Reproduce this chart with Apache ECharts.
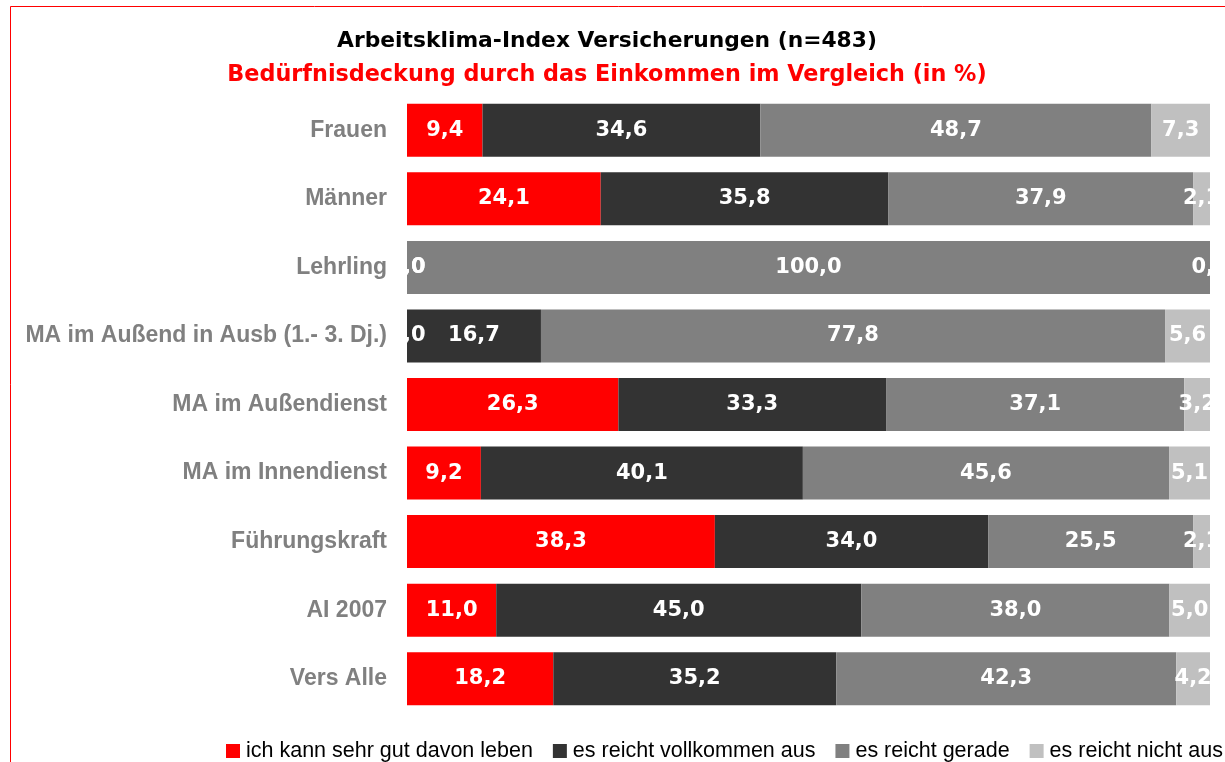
<!DOCTYPE html>
<html>
<head>
<meta charset="utf-8">
<script src="https://cdn.jsdelivr.net/npm/echarts@6/dist/echarts.min.js"></script>
<style>
  html, body { margin: 0; padding: 0; background: #fff; overflow: hidden; }
  #chart { width: 1225px; height: 762px; }
</style>
</head>
<body>
<div id="chart"></div>
<script>
const categories = ['Frauen', 'Männer', 'Lehrling', 'MA im Außend in Ausb (1.- 3. Dj.)',
  'MA im Außendienst', 'MA im Innendienst', 'Führungskraft', 'AI 2007', 'Vers Alle'];
const seriesNames = ['ich kann sehr gut davon leben', 'es reicht vollkommen aus', 'es reicht gerade', 'es reicht nicht aus'];
const sehrGut = [9.4, 24.1, 0, 0, 26.3, 9.2, 38.3, 11.0, 18.2];
const vollkommen = [34.6, 35.8, 0, 16.7, 33.3, 40.1, 34.0, 45.0, 35.2];
const gerade = [48.7, 37.9, 100.0, 77.8, 37.1, 45.6, 25.5, 38.0, 42.3];
const nichtAus = [7.3, 2.1, 0, 5.6, 3.2, 5.1, 2.1, 5.0, 4.2];
const colors = ['#ff0000', '#333333', '#808080', '#c0c0c0'];

// plot area
const gridLeft = 407, gridRight = 1210, gridTop = 96, gridBottom = 713;

const chart = echarts.init(document.getElementById('chart'));

// 100% stacked: every row is scaled to its own total, labels keep the read value
const allSeries = [sehrGut, vollkommen, gerade, nichtAus];
const rowTotals = categories.map(function (c, j) {
  return allSeries.reduce(function (s, arr) { return s + arr[j]; }, 0);
});

const seriesList = allSeries.map(function (vals, i) {
  return {
    name: seriesNames[i],
    type: 'bar',
    stack: 'total',
    barWidth: 53,
    data: vals.map(function (v, j) {
      return { value: v / rowTotals[j] * 100, raw: v };
    }),
    itemStyle: { color: colors[i] },
    label: {
      show: true,
      position: 'inside',
      color: '#fff',
      fontFamily: 'DejaVu Sans',
      fontWeight: 'bold',
      fontSize: 21,
      formatter: function (p) { return p.data.raw.toFixed(1).replace('.', ','); }
    }
  };
});

const option = {
  animation: false,
  title: [
    {
      text: 'Arbeitsklima-Index Versicherungen (n=483)',
      left: 602, top: 25, textAlign: 'center',
      textStyle: { fontFamily: 'DejaVu Sans', fontWeight: 'bold', fontSize: 21.8, color: '#000' }
    },
    {
      text: 'Bedürfnisdeckung durch das Einkommen im Vergleich (in %)',
      left: 602, top: 59, textAlign: 'center',
      textStyle: { fontFamily: 'DejaVu Sans', fontWeight: 'bold', fontSize: 22.3, color: '#ff0000' }
    }
  ],
  legend: {
    left: 226, top: 740, padding: 0,
    itemWidth: 14, itemHeight: 14, itemGap: 20,
    icon: 'rect',
    textStyle: { fontFamily: 'Liberation Sans', fontSize: 21.5, color: '#000', padding: [0, 0, 0, 1] },
    data: seriesNames
  },
  grid: {
    left: gridLeft, right: 1225 - gridRight, top: gridTop, bottom: 762 - gridBottom,
    containLabel: false
  },
  xAxis: { type: 'value', min: 0, max: 100, show: false },
  yAxis: {
    type: 'category',
    inverse: true,
    data: categories,
    axisLine: { show: false },
    axisTick: { show: false },
    axisLabel: {
      margin: 20,
      color: '#808080',
      fontFamily: 'Liberation Sans',
      fontWeight: 'bold',
      fontSize: 23
    }
  },
  graphic: [
    // outer red frame
    { type: 'rect', z: 100, silent: true, shape: { x: 10.5, y: 6.5, width: 1400, height: 900 },
      style: { fill: 'none', stroke: '#ff0000', lineWidth: 1 } },
    // labels get cut at the plot edges
    { type: 'rect', z: 99, silent: true, shape: { x: gridLeft - 18, y: gridTop, width: 18, height: gridBottom - gridTop },
      style: { fill: '#fff' } },
    { type: 'rect', z: 99, silent: true, shape: { x: gridRight, y: gridTop, width: 1225 - gridRight, height: gridBottom - gridTop },
      style: { fill: '#fff' } }
  ],
  series: seriesList
};

chart.setOption(option);
</script>
</body>
</html>
